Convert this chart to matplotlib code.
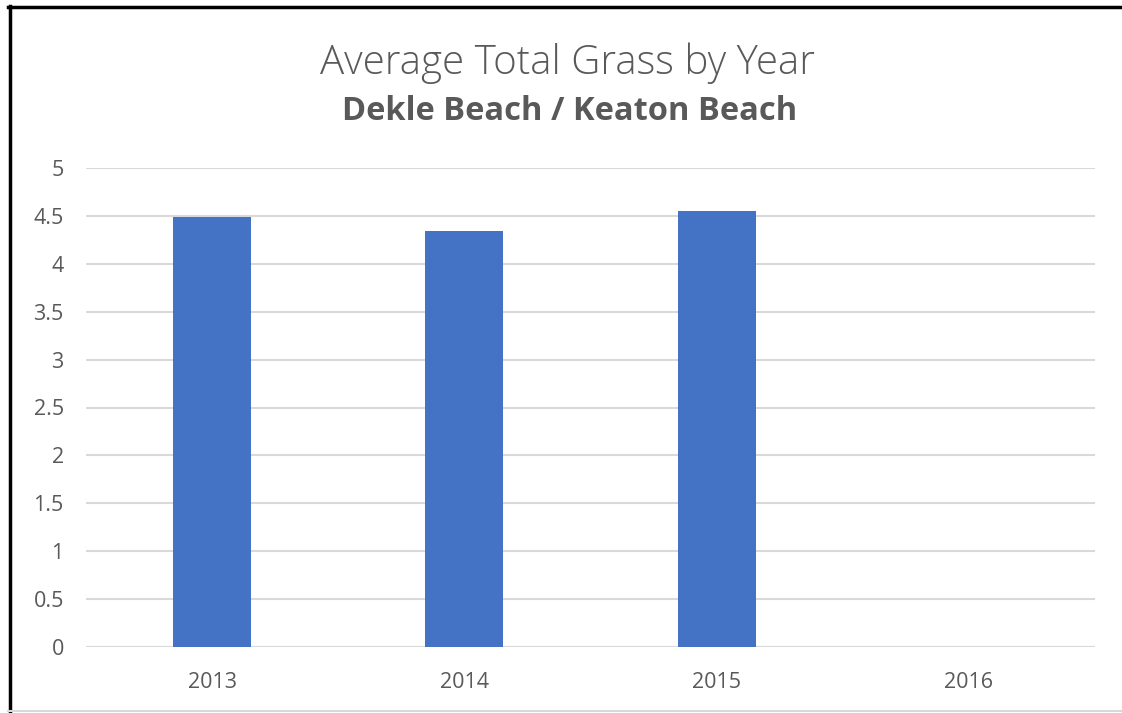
import matplotlib.pyplot as plt
from matplotlib.lines import Line2D

years = ['2013', '2014', '2015', '2016']
avg_grass = [4.49, 4.34, 4.55, 0]

plt.rcParams['font.family'] = ['Open Sans', 'DejaVu Sans']

fig = plt.figure(figsize=(11.22, 7.13), dpi=100)
ax = fig.add_axes([86 / 1122, 1 - 647 / 713, (1095 - 86) / 1122, (647 - 168) / 713])

x = range(len(years))
ax.bar(x, avg_grass, width=0.31, color='#4472C4', zorder=3)

ax.set_xlim(-0.5, len(years) - 0.5)
ax.set_ylim(0, 5)
ax.set_yticks([0, 0.5, 1, 1.5, 2, 2.5, 3, 3.5, 4, 4.5, 5])
ax.set_yticklabels(['0', '0.5', '1', '1.5', '2', '2.5', '3', '3.5', '4', '4.5', '5'])
ax.set_xticks(list(x))
ax.set_xticklabels(years)
ax.yaxis.grid(True, color='#d9d9d9', linewidth=1.5, zorder=0)
ax.tick_params(axis='both', length=0, labelsize=15.5, labelcolor='#595959')
ax.tick_params(axis='y', pad=16)
ax.tick_params(axis='x', pad=18)
for s in ax.spines.values():
    s.set_visible(False)
ax.axhline(0, color='#d9d9d9', linewidth=1.5, zorder=2)

fig.text(0.506, 1 - 63 / 713, 'Average Total Grass by Year', ha='center', va='center',
         fontsize=29, color='#595959', fontweight='light')
fig.text(0.508, 1 - 111 / 713, 'Dekle Beach / Keaton Beach', ha='center', va='center',
         fontsize=23.5, color='#595959', fontweight='bold')

# frame: heavy black top and left edges, thin grey bottom
fig.add_artist(Line2D([9.5 / 1122, 9.5 / 1122], [0, 1 - 6 / 713], color='black', linewidth=2.5))
fig.add_artist(Line2D([8 / 1122, 1], [1 - 7 / 713, 1 - 7 / 713], color='black', linewidth=2.5))
fig.add_artist(Line2D([8 / 1122, 1], [2 / 713, 2 / 713], color='#d9d9d9', linewidth=1.5))

fig.savefig('out.png', dpi=100)
